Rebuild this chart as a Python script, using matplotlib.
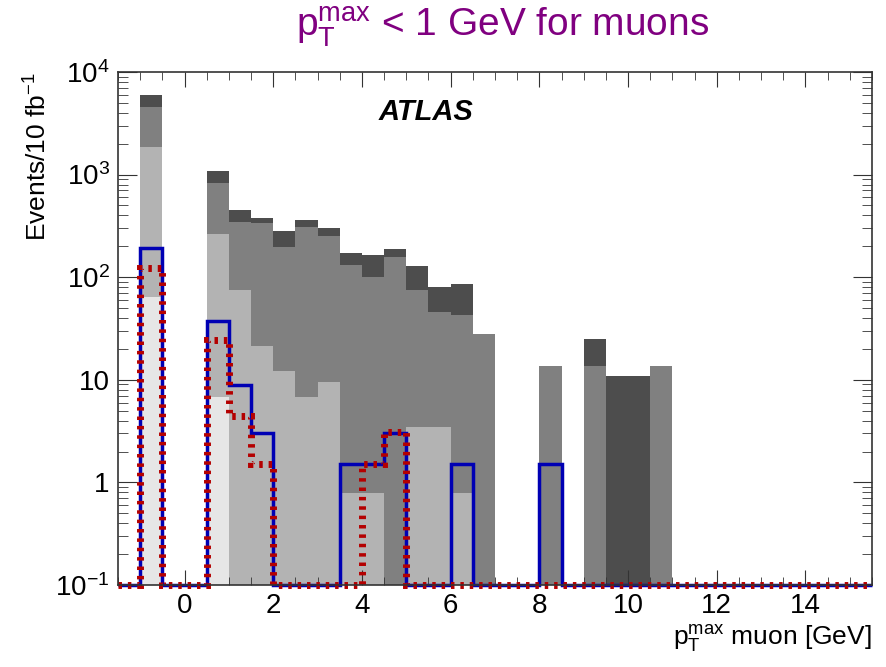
import numpy as np
import matplotlib
matplotlib.use("Agg")
import matplotlib.pyplot as plt
from matplotlib.ticker import MultipleLocator, LogLocator, NullFormatter

plt.rcParams['font.family'] = ['Liberation Sans', 'DejaVu Sans']
plt.rcParams['mathtext.fontset'] = 'custom'
plt.rcParams['mathtext.rm'] = 'Liberation Sans'
plt.rcParams['mathtext.it'] = 'Liberation Sans:italic'
plt.rcParams['mathtext.bf'] = 'Liberation Sans:bold'

# lower edges of the filled bins (bin width 0.5 GeV)
bin_lo = [-1.0, 0.5, 1.0, 1.5, 2.0, 2.5, 3.0, 3.5, 4.0, 4.5,
          5.0, 5.5, 6.0, 6.5, 8.0, 9.0, 9.5, 10.0, 10.5]

# background components, stacked bottom to top
bkg_vlight = [64, 6.8, 0, 0, 0, 0, 0, 0, 0, 0,
              0, 0, 0, 0, 0, 0, 0, 0, 0]
bkg_light = [1796, 256, 75, 21.3, 12.2, 6.8, 9.5, 0.79, 0.79, 0,
             3.44, 3.44, 0.79, 0, 0, 0, 0, 0, 0]
bkg_medium = [2700, 565, 270, 316, 185, 302, 242, 131, 100, 156,
              71.5, 42.5, 42, 28, 13.6, 13.6, 0, 0, 13.6]
bkg_dark = [1410, 256, 107, 41, 85, 52, 50, 40, 63, 31,
            54, 33.6, 44, 0, 0, 11.4, 10.9, 10.9, 0]

# signal histograms (empty bins sit at the axis floor)
sig_lo = [-1.0, 0.5, 1.0, 1.5, 3.5, 4.0, 4.5, 6.0, 8.0]
sig_blue = [194, 37.7, 8.9, 3.0, 1.5, 1.5, 3.0, 1.5, 1.5]
sig_red = [122, 24.4, 4.4, 1.5, 0.1, 1.5, 3.1, 0.1, 0.1]

x_min, x_max, width = -1.5, 15.5, 0.5
y_floor = 0.1

fig = plt.figure(figsize=(8.87, 6.67), dpi=100)
ax = fig.add_axes([118/887, 1-585/667, 754/887, 513/667])
ax.set_yscale('log')

colors = ['#e6e6e6', '#b3b3b3', '#808080', '#4d4d4d']
bottom = np.zeros(len(bin_lo))
for layer, c in zip([bkg_vlight, bkg_light, bkg_medium, bkg_dark], colors):
    layer = np.array(layer, dtype=float)
    ax.bar(bin_lo, layer, width=width, bottom=bottom, align='edge',
           color=c, linewidth=0, zorder=1)
    bottom = bottom + layer

edges = np.arange(x_min, x_max + width/2, width)
nbins = len(edges) - 1
idx = np.rint((np.array(sig_lo) - x_min) / width).astype(int)
blue_full = np.full(nbins, y_floor)
blue_full[idx] = sig_blue
red_full = np.full(nbins, y_floor)
red_full[idx] = sig_red

ax.stairs(blue_full, edges, baseline=None, color='#0000b4', linewidth=2.5,
          clip_on=False, zorder=3)
ax.stairs(red_full, edges, baseline=None, color='#b40000', linewidth=5,
          linestyle=(0, (0.5, 0.85)), clip_on=False, zorder=4)

ax.set_xlim(x_min, x_max)
ax.set_ylim(0.1, 1e4)

ax.xaxis.set_major_locator(MultipleLocator(2))
ax.xaxis.set_minor_locator(MultipleLocator(0.5))
ax.set_yticks([0.1, 1, 10, 100, 1000, 10000])
ax.set_yticklabels([r'$10^{-1}$', '1', '10', r'$10^{2}$', r'$10^{3}$', r'$10^{4}$'])
ax.yaxis.set_minor_locator(LogLocator(base=10, subs=np.arange(2, 10)))
ax.yaxis.set_minor_formatter(NullFormatter())

ax.tick_params(which='both', direction='in', top=True, right=True,
               labelsize=20, color='#333333')
ax.tick_params(axis='x', which='major', length=11, pad=6)
ax.tick_params(axis='x', which='minor', length=5.5)
ax.tick_params(axis='y', which='major', length=14, pad=6)
ax.tick_params(axis='y', which='minor', length=7)
for s in ax.spines.values():
    s.set_linewidth(1.2)
    s.set_color('#333333')
    s.set_zorder(5)

ax.set_ylabel(r'Events/10 fb$^{-1}$', fontsize=19, loc='top')
ax.yaxis.set_label_coords(-0.088, 1.0)
ax.set_xlabel(r'p$_{\rm T}^{\rm max}$ muon [GeV]', fontsize=19, loc='right')
ax.xaxis.set_label_coords(1.0, -0.075)

ax.text(0.408, 0.922, 'ATLAS', transform=ax.transAxes, fontsize=21,
        fontweight='bold', fontstyle='italic', ha='center', va='center')

fig.text(503/887, 1-27/667, r'p$_{\rm T}^{\rm max}$ < 1 GeV for muons',
         color='#800080', fontsize=28, ha='center', va='center')

fig.savefig('out.png', dpi=100)
